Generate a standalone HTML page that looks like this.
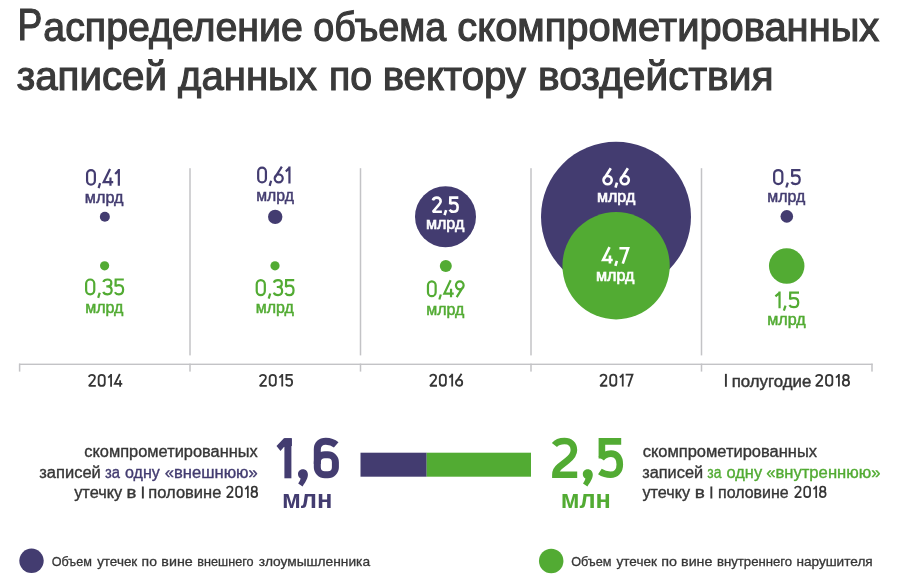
<!DOCTYPE html>
<html><head><meta charset="utf-8"><style>
html,body{margin:0;padding:0;background:#fff;width:900px;height:583px;overflow:hidden}
svg{display:block;will-change:transform}
text{font-family:"Liberation Sans",sans-serif}
</style></head><body>
<svg width="900" height="583" viewBox="0 0 900 583">
<rect x="19" y="363.6" width="853.6" height="1.4" fill="#c3c3c6"/>
<rect x="18.85" y="363.6" width="1.5" height="8" fill="#c3c3c6"/>
<rect x="189.25" y="363.6" width="1.5" height="8" fill="#c3c3c6"/>
<rect x="359.75" y="363.6" width="1.5" height="8" fill="#c3c3c6"/>
<rect x="530.25" y="363.6" width="1.5" height="8" fill="#c3c3c6"/>
<rect x="700.75" y="363.6" width="1.5" height="8" fill="#c3c3c6"/>
<rect x="871.25" y="363.6" width="1.5" height="8" fill="#c3c3c6"/>
<rect x="189.25" y="168.2" width="1.5" height="187.2" fill="#c3c3c6"/>
<rect x="359.75" y="168.2" width="1.5" height="187.2" fill="#c3c3c6"/>
<rect x="530.25" y="168.2" width="1.5" height="187.2" fill="#c3c3c6"/>
<rect x="700.75" y="168.2" width="1.5" height="187.2" fill="#c3c3c6"/>
<circle cx="104.85" cy="216.70" r="5.00" fill="#433c70"/>
<circle cx="104.60" cy="265.80" r="4.60" fill="#52ab33"/>
<circle cx="275.20" cy="216.85" r="7.20" fill="#433c70"/>
<circle cx="275.00" cy="265.80" r="4.60" fill="#52ab33"/>
<circle cx="445.50" cy="216.70" r="30.50" fill="#433c70"/>
<circle cx="445.80" cy="266.00" r="6.00" fill="#52ab33"/>
<circle cx="616.00" cy="216.70" r="75.00" fill="#433c70"/>
<circle cx="616.10" cy="265.75" r="53.65" fill="#52ab33"/>
<circle cx="786.80" cy="216.40" r="6.30" fill="#433c70"/>
<circle cx="786.70" cy="266.00" r="17.75" fill="#52ab33"/>
<circle cx="31.50" cy="560.80" r="12.20" fill="#433c70"/>
<circle cx="551.20" cy="561.00" r="12.25" fill="#52ab33"/>
<rect x="360.5" y="452.7" width="66.2" height="24" fill="#433c70"/>
<rect x="426.7" y="452.7" width="104.3" height="24" fill="#52ab33"/>
<text id="t0" x="17.47" y="40.02" font-size="43.60" fill="#3a3a3a" stroke="#3a3a3a" stroke-width="1.15" textLength="24.82" lengthAdjust="spacingAndGlyphs">Р</text>
<text id="t1_0" x="43.35" y="40.82" font-size="40.00" fill="#3a3a3a" stroke="#3a3a3a" stroke-width="1.15" textLength="259.47" lengthAdjust="spacingAndGlyphs">аспределение</text>
<text id="t1_1" x="313.30" y="40.82" font-size="40.00" fill="#3a3a3a" stroke="#3a3a3a" stroke-width="1.15" textLength="132.89" lengthAdjust="spacingAndGlyphs">объема</text>
<text id="t1_2" x="457.33" y="40.82" font-size="40.00" fill="#3a3a3a" stroke="#3a3a3a" stroke-width="1.15" textLength="421.90" lengthAdjust="spacingAndGlyphs">скомпрометированных</text>
<text id="t2_0" x="16.75" y="89.92" font-size="40.00" fill="#3a3a3a" stroke="#3a3a3a" stroke-width="1.15" textLength="150.24" lengthAdjust="spacingAndGlyphs">записей</text>
<text id="t2_1" x="178.07" y="89.92" font-size="40.00" fill="#3a3a3a" stroke="#3a3a3a" stroke-width="1.15" textLength="138.85" lengthAdjust="spacingAndGlyphs">данных</text>
<text id="t2_2" x="329.12" y="89.92" font-size="40.00" fill="#3a3a3a" stroke="#3a3a3a" stroke-width="1.15" textLength="43.09" lengthAdjust="spacingAndGlyphs">по</text>
<text id="t2_3" x="382.77" y="89.92" font-size="40.00" fill="#3a3a3a" stroke="#3a3a3a" stroke-width="1.15" textLength="143.15" lengthAdjust="spacingAndGlyphs">вектору</text>
<text id="t2_4" x="538.03" y="89.92" font-size="40.00" fill="#3a3a3a" stroke="#3a3a3a" stroke-width="1.15" textLength="235.41" lengthAdjust="spacingAndGlyphs">воздействия</text>
<text id="c1m1" x="84.84" y="202.95" font-size="16.00" fill="#433c70" stroke="#433c70" stroke-width="0.50" textLength="38.60" lengthAdjust="spacingAndGlyphs">млрд</text>
<text id="c1m2" x="85.25" y="312.95" font-size="16.00" fill="#52ab33" stroke="#52ab33" stroke-width="0.50" textLength="38.19" lengthAdjust="spacingAndGlyphs">млрд</text>
<text id="c2m1" x="256.27" y="200.55" font-size="16.00" fill="#433c70" stroke="#433c70" stroke-width="0.50" textLength="37.57" lengthAdjust="spacingAndGlyphs">млрд</text>
<text id="c2m2" x="255.75" y="313.15" font-size="16.00" fill="#52ab33" stroke="#52ab33" stroke-width="0.50" textLength="38.08" lengthAdjust="spacingAndGlyphs">млрд</text>
<text id="c3m1" x="425.92" y="229.48" font-size="16.00" fill="#ffffff" stroke="#ffffff" stroke-width="0.65" textLength="38.34" lengthAdjust="spacingAndGlyphs">млрд</text>
<text id="c3m2" x="426.25" y="314.55" font-size="16.00" fill="#52ab33" stroke="#52ab33" stroke-width="0.50" textLength="38.08" lengthAdjust="spacingAndGlyphs">млрд</text>
<text id="c4m1" x="597.02" y="202.18" font-size="16.00" fill="#ffffff" stroke="#ffffff" stroke-width="0.65" textLength="38.24" lengthAdjust="spacingAndGlyphs">млрд</text>
<text id="c4m2" x="596.02" y="280.78" font-size="16.00" fill="#ffffff" stroke="#ffffff" stroke-width="0.65" textLength="38.44" lengthAdjust="spacingAndGlyphs">млрд</text>
<text id="c5m1" x="767.26" y="201.95" font-size="16.00" fill="#433c70" stroke="#433c70" stroke-width="0.50" textLength="37.98" lengthAdjust="spacingAndGlyphs">млрд</text>
<text id="c5m2" x="767.25" y="325.05" font-size="16.00" fill="#52ab33" stroke="#52ab33" stroke-width="0.50" textLength="38.39" lengthAdjust="spacingAndGlyphs">млрд</text>
<rect id="y5_0" x="724.95" y="373.86" width="1.90" height="12.94" fill="#363636"/>
<text id="y5_1" x="731.67" y="386.57" font-size="16.80" fill="#363636" stroke="#363636" stroke-width="0.45" textLength="79.58" lengthAdjust="spacingAndGlyphs">полугодие</text>
<text id="lb1" x="84.26" y="457.02" font-size="15.60" fill="#363636" stroke="#363636" stroke-width="0.35" textLength="173.56" lengthAdjust="spacingAndGlyphs">скомпрометированных</text>
<text id="lb2_0" x="39.22" y="477.72" font-size="15.60" fill="#363636" stroke="#363636" stroke-width="0.35" textLength="61.58" lengthAdjust="spacingAndGlyphs">записей</text>
<text id="lb2_1" x="104.94" y="477.72" font-size="15.60" fill="#433c70" stroke="#433c70" stroke-width="0.35" textLength="14.99" lengthAdjust="spacingAndGlyphs">за</text>
<text id="lb2_2" x="124.97" y="477.72" font-size="15.60" fill="#433c70" stroke="#433c70" stroke-width="0.35" textLength="34.85" lengthAdjust="spacingAndGlyphs">одну</text>
<text id="lb2_3" x="164.66" y="477.72" font-size="15.60" fill="#433c70" stroke="#433c70" stroke-width="0.35" textLength="93.14" lengthAdjust="spacingAndGlyphs">«внешнюю»</text>
<text id="lb3_0" x="74.17" y="498.32" font-size="15.60" fill="#363636" stroke="#363636" stroke-width="0.35" textLength="48.05" lengthAdjust="spacingAndGlyphs">утечку</text>
<text id="lb3_1" x="126.51" y="498.32" font-size="15.60" fill="#363636" stroke="#363636" stroke-width="0.35" textLength="9.90" lengthAdjust="spacingAndGlyphs">в</text>
<rect id="lb3_2" x="141.90" y="486.49" width="1.90" height="12.01" fill="#363636"/>
<text id="lb3_3" x="148.34" y="498.32" font-size="15.60" fill="#363636" stroke="#363636" stroke-width="0.35" textLength="73.05" lengthAdjust="spacingAndGlyphs">половине</text>
<text id="mln1" x="281.90" y="507.80" font-size="26.00" font-weight="bold" fill="#433c70" textLength="50.56" lengthAdjust="spacingAndGlyphs">млн</text>
<text id="mln2" x="560.71" y="507.80" font-size="26.00" font-weight="bold" fill="#52ab33" textLength="50.24" lengthAdjust="spacingAndGlyphs">млн</text>
<text id="rb1" x="642.66" y="457.02" font-size="15.60" fill="#363636" stroke="#363636" stroke-width="0.35" textLength="174.36" lengthAdjust="spacingAndGlyphs">скомпрометированных</text>
<text id="rb2_0" x="642.22" y="477.72" font-size="15.60" fill="#363636" stroke="#363636" stroke-width="0.35" textLength="60.86" lengthAdjust="spacingAndGlyphs">записей</text>
<text id="rb2_1" x="707.36" y="477.72" font-size="15.60" fill="#52ab33" stroke="#52ab33" stroke-width="0.35" textLength="14.18" lengthAdjust="spacingAndGlyphs">за</text>
<text id="rb2_2" x="726.56" y="477.72" font-size="15.60" fill="#52ab33" stroke="#52ab33" stroke-width="0.35" textLength="35.56" lengthAdjust="spacingAndGlyphs">одну</text>
<text id="rb2_3" x="766.15" y="477.72" font-size="15.60" fill="#52ab33" stroke="#52ab33" stroke-width="0.35" textLength="114.34" lengthAdjust="spacingAndGlyphs">«внутреннюю»</text>
<text id="rb3_0" x="642.47" y="498.32" font-size="15.60" fill="#363636" stroke="#363636" stroke-width="0.35" textLength="47.65" lengthAdjust="spacingAndGlyphs">утечку</text>
<text id="rb3_1" x="694.78" y="498.32" font-size="15.60" fill="#363636" stroke="#363636" stroke-width="0.35" textLength="10.14" lengthAdjust="spacingAndGlyphs">в</text>
<rect id="rb3_2" x="710.40" y="486.49" width="1.90" height="12.01" fill="#363636"/>
<text id="rb3_3" x="718.08" y="498.32" font-size="15.60" fill="#363636" stroke="#363636" stroke-width="0.35" textLength="70.59" lengthAdjust="spacingAndGlyphs">половине</text>
<text id="lg1_0" x="51.76" y="565.85" font-size="13.40" fill="#363636" stroke="#363636" stroke-width="0.30" textLength="40.18" lengthAdjust="spacingAndGlyphs">Объем</text>
<text id="lg1_1" x="97.15" y="565.85" font-size="13.40" fill="#363636" stroke="#363636" stroke-width="0.30" textLength="40.09" lengthAdjust="spacingAndGlyphs">утечек</text>
<text id="lg1_2" x="141.58" y="565.85" font-size="13.40" fill="#363636" stroke="#363636" stroke-width="0.30" textLength="15.34" lengthAdjust="spacingAndGlyphs">по</text>
<text id="lg1_3" x="161.36" y="565.85" font-size="13.40" fill="#363636" stroke="#363636" stroke-width="0.30" textLength="31.37" lengthAdjust="spacingAndGlyphs">вине</text>
<text id="lg1_4" x="197.36" y="565.85" font-size="13.40" fill="#363636" stroke="#363636" stroke-width="0.30" textLength="56.20" lengthAdjust="spacingAndGlyphs">внешнего</text>
<text id="lg1_5" x="258.74" y="565.85" font-size="13.40" fill="#363636" stroke="#363636" stroke-width="0.30" textLength="111.33" lengthAdjust="spacingAndGlyphs">злоумышленника</text>
<text id="lg2_0" x="571.16" y="565.85" font-size="13.40" fill="#363636" stroke="#363636" stroke-width="0.30" textLength="40.39" lengthAdjust="spacingAndGlyphs">Объем</text>
<text id="lg2_1" x="616.55" y="565.85" font-size="13.40" fill="#363636" stroke="#363636" stroke-width="0.30" textLength="40.29" lengthAdjust="spacingAndGlyphs">утечек</text>
<text id="lg2_2" x="661.15" y="565.85" font-size="13.40" fill="#363636" stroke="#363636" stroke-width="0.30" textLength="15.78" lengthAdjust="spacingAndGlyphs">по</text>
<text id="lg2_3" x="681.06" y="565.85" font-size="13.40" fill="#363636" stroke="#363636" stroke-width="0.30" textLength="31.37" lengthAdjust="spacingAndGlyphs">вине</text>
<text id="lg2_4" x="716.93" y="565.85" font-size="13.40" fill="#363636" stroke="#363636" stroke-width="0.30" textLength="75.26" lengthAdjust="spacingAndGlyphs">внутреннего</text>
<text id="lg2_5" x="796.40" y="565.85" font-size="13.40" fill="#363636" stroke="#363636" stroke-width="0.30" textLength="76.33" lengthAdjust="spacingAndGlyphs">нарушителя</text>
<g fill="none" stroke="#433c70" stroke-width="7" stroke-linejoin="miter">
<path d="M287.9,438.2 L287.9,478.3"/>
<path d="M317.3,464 L317.3,449.5 C317.3,444.2 320.6,441.2 325.8,441.2 C330.2,441.2 333.2,442.3 336.2,444.9"/>
<rect x="317.3" y="454.7" width="18.1" height="20.1" rx="7.5"/>
</g>
<g fill="#433c70">
<polygon points="283.9,438.2 291.9,438.2 291.9,446 283.9,446.9 280.5,450.9 276.5,446"/>
<path d="M298,474 C298,471.2 300.4,469.3 303,469.3 C305.8,469.3 307.9,471.5 307.9,474.6 C307.9,477.8 306.4,481 302.6,486.4 L298.2,483.6 C299.6,481.5 300.4,479.8 300.6,478.6 C299,477.8 298,476.3 298,474 Z"/>
</g>
<g fill="none" stroke="#52ab33" stroke-width="6.6" stroke-linejoin="miter">
<path d="M554.4,445 C557,441.8 560.5,441 564.5,441 C570,441 573.9,444.5 573.9,450 C573.9,454.2 571.6,457.2 567.2,460.6 L559.6,466.6 C556.6,469 555.4,471 555.4,474.8 L577.2,474.8"/>
<path d="M621.2,441.4 L601.9,441.4 L601.9,458.4"/>
<path d="M601.2,458.6 C603.6,455.2 607,453.6 611,453.6 C616.5,453.6 619.8,457.5 619.8,464.4 C619.8,471 616,474.8 610.5,474.8 C606.2,474.8 602.6,473.4 599.9,471.6"/>
</g>
<g fill="#52ab33">
<path d="M582.8,474 C582.8,471.2 585.2,469.3 587.8,469.3 C590.6,469.3 592.8,471.5 592.8,474.6 C592.8,477.8 591.3,481 587.4,486.4 L583,483.6 C584.4,481.5 585.2,479.8 585.4,478.6 C583.8,477.8 582.8,476.3 582.8,474 Z"/>
</g>
<g fill="none" stroke="#433c70" stroke-width="2.20" vector-effect="non-scaling-stroke" stroke-linejoin="miter" stroke-miterlimit="2"><path vector-effect="non-scaling-stroke" transform="matrix(0.1659 0 0 0.1670 86.00 169.10)" d="M6.5,30 A23.5,23.5 0 0 1 53.5,30 L53.5,70 A23.5,23.5 0 0 1 6.5,70 Z"/><path vector-effect="non-scaling-stroke" transform="matrix(0.1659 0 0 0.1670 97.78 169.10)" d="M14,84 L5,114"/><path vector-effect="non-scaling-stroke" transform="matrix(0.1659 0 0 0.1670 102.59 169.10)" d="M45,0 L6.5,78.5 L64,78.5 M47.5,50 L47.5,100"/><path vector-effect="non-scaling-stroke" transform="matrix(0.1659 0 0 0.1670 114.36 169.10)" d="M5,29 L25,9 M27,0 L27,100"/></g>
<g fill="none" stroke="#52ab33" stroke-width="2.20" vector-effect="non-scaling-stroke" stroke-linejoin="miter" stroke-miterlimit="2"><path vector-effect="non-scaling-stroke" transform="matrix(0.1733 0 0 0.1710 85.00 278.40)" d="M6.5,30 A23.5,23.5 0 0 1 53.5,30 L53.5,70 A23.5,23.5 0 0 1 6.5,70 Z"/><path vector-effect="non-scaling-stroke" transform="matrix(0.1733 0 0 0.1710 97.31 278.40)" d="M14,84 L5,114"/><path vector-effect="non-scaling-stroke" transform="matrix(0.1733 0 0 0.1710 102.33 278.40)" d="M6,21 C9,11.5 18,6.5 30,6.5 C43,6.5 52,14 52,27 C52,39 43,46.5 31,46.5 L23,46.5 M31,46.5 C45,46.5 54,55 54,70 C54,85 44,93.5 30,93.5 C18,93.5 9,88 5.5,79"/><path vector-effect="non-scaling-stroke" transform="matrix(0.1733 0 0 0.1710 113.95 278.40)" d="M57,6.5 L10,6.5 L9,48 M8,46 C13,41 20,39 29,39 C44,39 53,49 53,65 C53,83 43,93.5 29,93.5 C18,93.5 10,89 5.5,81"/></g>
<g fill="none" stroke="#433c70" stroke-width="2.20" vector-effect="non-scaling-stroke" stroke-linejoin="miter" stroke-miterlimit="2"><path vector-effect="non-scaling-stroke" transform="matrix(0.1650 0 0 0.1690 257.10 166.60)" d="M6.5,30 A23.5,23.5 0 0 1 53.5,30 L53.5,70 A23.5,23.5 0 0 1 6.5,70 Z"/><path vector-effect="non-scaling-stroke" transform="matrix(0.1650 0 0 0.1690 268.82 166.60)" d="M14,84 L5,114"/><path vector-effect="non-scaling-stroke" transform="matrix(0.1650 0 0 0.1690 273.60 166.60)" d="M50,0 L10,62 M31,93.5 A24.5,24 0 1 1 31,45.5 A24.5,24 0 1 1 31,93.5 Z"/><path vector-effect="non-scaling-stroke" transform="matrix(0.1650 0 0 0.1690 284.99 166.60)" d="M5,29 L25,9 M27,0 L27,100"/></g>
<g fill="none" stroke="#52ab33" stroke-width="2.20" vector-effect="non-scaling-stroke" stroke-linejoin="miter" stroke-miterlimit="2"><path vector-effect="non-scaling-stroke" transform="matrix(0.1724 0 0 0.1720 255.60 279.00)" d="M6.5,30 A23.5,23.5 0 0 1 53.5,30 L53.5,70 A23.5,23.5 0 0 1 6.5,70 Z"/><path vector-effect="non-scaling-stroke" transform="matrix(0.1724 0 0 0.1720 267.84 279.00)" d="M14,84 L5,114"/><path vector-effect="non-scaling-stroke" transform="matrix(0.1724 0 0 0.1720 272.84 279.00)" d="M6,21 C9,11.5 18,6.5 30,6.5 C43,6.5 52,14 52,27 C52,39 43,46.5 31,46.5 L23,46.5 M31,46.5 C45,46.5 54,55 54,70 C54,85 44,93.5 30,93.5 C18,93.5 9,88 5.5,79"/><path vector-effect="non-scaling-stroke" transform="matrix(0.1724 0 0 0.1720 284.40 279.00)" d="M57,6.5 L10,6.5 L9,48 M8,46 C13,41 20,39 29,39 C44,39 53,49 53,65 C53,83 43,93.5 29,93.5 C18,93.5 10,89 5.5,81"/></g>
<g fill="none" stroke="#ffffff" stroke-width="2.60" vector-effect="non-scaling-stroke" stroke-linejoin="miter" stroke-miterlimit="2"><path vector-effect="non-scaling-stroke" transform="matrix(0.1696 0 0 0.1620 431.70 196.60)" d="M7,23 C9.5,12.5 18,6.5 30,6.5 C44,6.5 53,15 53,28 C53,37 49,43 42,51 L7,93.5 L60,93.5"/><path vector-effect="non-scaling-stroke" transform="matrix(0.1696 0 0 0.1620 443.74 196.60)" d="M14,84 L5,114"/><path vector-effect="non-scaling-stroke" transform="matrix(0.1696 0 0 0.1620 448.66 196.60)" d="M57,6.5 L10,6.5 L9,48 M8,46 C13,41 20,39 29,39 C44,39 53,49 53,65 C53,83 43,93.5 29,93.5 C18,93.5 10,89 5.5,81"/></g>
<g fill="none" stroke="#52ab33" stroke-width="2.20" vector-effect="non-scaling-stroke" stroke-linejoin="miter" stroke-miterlimit="2"><path vector-effect="non-scaling-stroke" transform="matrix(0.1636 0 0 0.1690 426.90 280.30)" d="M6.5,30 A23.5,23.5 0 0 1 53.5,30 L53.5,70 A23.5,23.5 0 0 1 6.5,70 Z"/><path vector-effect="non-scaling-stroke" transform="matrix(0.1636 0 0 0.1690 438.52 280.30)" d="M14,84 L5,114"/><path vector-effect="non-scaling-stroke" transform="matrix(0.1636 0 0 0.1690 443.26 280.30)" d="M45,0 L6.5,78.5 L64,78.5 M47.5,50 L47.5,100"/><path vector-effect="non-scaling-stroke" transform="matrix(0.1636 0 0 0.1690 454.88 280.30)" d="M11,100 L48,42 M30,6.5 A23.5,23.5 0 1 1 30,53.5 A23.5,23.5 0 1 1 30,6.5 Z"/></g>
<g fill="none" stroke="#ffffff" stroke-width="2.60" vector-effect="non-scaling-stroke" stroke-linejoin="miter" stroke-miterlimit="2"><path vector-effect="non-scaling-stroke" transform="matrix(0.1677 0 0 0.1710 602.40 168.20)" d="M50,0 L10,62 M31,93.5 A24.5,24 0 1 1 31,45.5 A24.5,24 0 1 1 31,93.5 Z"/><path vector-effect="non-scaling-stroke" transform="matrix(0.1677 0 0 0.1710 614.64 168.20)" d="M14,84 L5,114"/><path vector-effect="non-scaling-stroke" transform="matrix(0.1677 0 0 0.1710 619.50 168.20)" d="M50,0 L10,62 M31,93.5 A24.5,24 0 1 1 31,45.5 A24.5,24 0 1 1 31,93.5 Z"/></g>
<g fill="none" stroke="#ffffff" stroke-width="2.60" vector-effect="non-scaling-stroke" stroke-linejoin="miter" stroke-miterlimit="2"><path vector-effect="non-scaling-stroke" transform="matrix(0.1673 0 0 0.1640 602.00 247.20)" d="M45,0 L6.5,78.5 L64,78.5 M47.5,50 L47.5,100"/><path vector-effect="non-scaling-stroke" transform="matrix(0.1673 0 0 0.1640 614.55 247.20)" d="M14,84 L5,114"/><path vector-effect="non-scaling-stroke" transform="matrix(0.1673 0 0 0.1640 619.40 247.20)" d="M0,6.5 L52,6.5 L20,100"/></g>
<g fill="none" stroke="#433c70" stroke-width="2.20" vector-effect="non-scaling-stroke" stroke-linejoin="miter" stroke-miterlimit="2"><path vector-effect="non-scaling-stroke" transform="matrix(0.1747 0 0 0.1620 773.00 169.00)" d="M6.5,30 A23.5,23.5 0 0 1 53.5,30 L53.5,70 A23.5,23.5 0 0 1 6.5,70 Z"/><path vector-effect="non-scaling-stroke" transform="matrix(0.1747 0 0 0.1620 785.40 169.00)" d="M14,84 L5,114"/><path vector-effect="non-scaling-stroke" transform="matrix(0.1747 0 0 0.1620 790.47 169.00)" d="M57,6.5 L10,6.5 L9,48 M8,46 C13,41 20,39 29,39 C44,39 53,49 53,65 C53,83 43,93.5 29,93.5 C18,93.5 10,89 5.5,81"/></g>
<g fill="none" stroke="#52ab33" stroke-width="2.20" vector-effect="non-scaling-stroke" stroke-linejoin="miter" stroke-miterlimit="2"><path vector-effect="non-scaling-stroke" transform="matrix(0.1871 0 0 0.1670 774.50 291.60)" d="M5,29 L25,9 M27,0 L27,100"/><path vector-effect="non-scaling-stroke" transform="matrix(0.1871 0 0 0.1670 782.92 291.60)" d="M14,84 L5,114"/><path vector-effect="non-scaling-stroke" transform="matrix(0.1871 0 0 0.1670 788.35 291.60)" d="M57,6.5 L10,6.5 L9,48 M8,46 C13,41 20,39 29,39 C44,39 53,49 53,65 C53,83 43,93.5 29,93.5 C18,93.5 10,89 5.5,81"/></g>
<g fill="none" stroke="#363636" stroke-width="1.80" vector-effect="non-scaling-stroke" stroke-linejoin="miter" stroke-miterlimit="2"><path vector-effect="non-scaling-stroke" transform="matrix(0.1304 0 0 0.1270 88.00 374.00)" d="M7,23 C9.5,12.5 18,6.5 30,6.5 C44,6.5 53,15 53,28 C53,37 49,43 42,51 L7,93.5 L60,93.5"/><path vector-effect="non-scaling-stroke" transform="matrix(0.1304 0 0 0.1270 97.78 374.00)" d="M6.5,30 A23.5,23.5 0 0 1 53.5,30 L53.5,70 A23.5,23.5 0 0 1 6.5,70 Z"/><path vector-effect="non-scaling-stroke" transform="matrix(0.1304 0 0 0.1270 107.56 374.00)" d="M5,29 L25,9 M27,0 L27,100"/><path vector-effect="non-scaling-stroke" transform="matrix(0.1304 0 0 0.1270 113.95 374.00)" d="M45,0 L6.5,78.5 L64,78.5 M47.5,50 L47.5,100"/></g>
<g fill="none" stroke="#363636" stroke-width="1.80" vector-effect="non-scaling-stroke" stroke-linejoin="miter" stroke-miterlimit="2"><path vector-effect="non-scaling-stroke" transform="matrix(0.1319 0 0 0.1260 258.90 374.00)" d="M7,23 C9.5,12.5 18,6.5 30,6.5 C44,6.5 53,15 53,28 C53,37 49,43 42,51 L7,93.5 L60,93.5"/><path vector-effect="non-scaling-stroke" transform="matrix(0.1319 0 0 0.1260 268.79 374.00)" d="M6.5,30 A23.5,23.5 0 0 1 53.5,30 L53.5,70 A23.5,23.5 0 0 1 6.5,70 Z"/><path vector-effect="non-scaling-stroke" transform="matrix(0.1319 0 0 0.1260 278.69 374.00)" d="M5,29 L25,9 M27,0 L27,100"/><path vector-effect="non-scaling-stroke" transform="matrix(0.1319 0 0 0.1260 285.15 374.00)" d="M57,6.5 L10,6.5 L9,48 M8,46 C13,41 20,39 29,39 C44,39 53,49 53,65 C53,83 43,93.5 29,93.5 C18,93.5 10,89 5.5,81"/></g>
<g fill="none" stroke="#363636" stroke-width="1.80" vector-effect="non-scaling-stroke" stroke-linejoin="miter" stroke-miterlimit="2"><path vector-effect="non-scaling-stroke" transform="matrix(0.1299 0 0 0.1280 429.20 373.80)" d="M7,23 C9.5,12.5 18,6.5 30,6.5 C44,6.5 53,15 53,28 C53,37 49,43 42,51 L7,93.5 L60,93.5"/><path vector-effect="non-scaling-stroke" transform="matrix(0.1299 0 0 0.1280 438.94 373.80)" d="M6.5,30 A23.5,23.5 0 0 1 53.5,30 L53.5,70 A23.5,23.5 0 0 1 6.5,70 Z"/><path vector-effect="non-scaling-stroke" transform="matrix(0.1299 0 0 0.1280 448.68 373.80)" d="M5,29 L25,9 M27,0 L27,100"/><path vector-effect="non-scaling-stroke" transform="matrix(0.1299 0 0 0.1280 455.05 373.80)" d="M50,0 L10,62 M31,93.5 A24.5,24 0 1 1 31,45.5 A24.5,24 0 1 1 31,93.5 Z"/></g>
<g fill="none" stroke="#363636" stroke-width="1.80" vector-effect="non-scaling-stroke" stroke-linejoin="miter" stroke-miterlimit="2"><path vector-effect="non-scaling-stroke" transform="matrix(0.1319 0 0 0.1280 599.40 373.80)" d="M7,23 C9.5,12.5 18,6.5 30,6.5 C44,6.5 53,15 53,28 C53,37 49,43 42,51 L7,93.5 L60,93.5"/><path vector-effect="non-scaling-stroke" transform="matrix(0.1319 0 0 0.1280 609.29 373.80)" d="M6.5,30 A23.5,23.5 0 0 1 53.5,30 L53.5,70 A23.5,23.5 0 0 1 6.5,70 Z"/><path vector-effect="non-scaling-stroke" transform="matrix(0.1319 0 0 0.1280 619.19 373.80)" d="M5,29 L25,9 M27,0 L27,100"/><path vector-effect="non-scaling-stroke" transform="matrix(0.1319 0 0 0.1280 625.65 373.80)" d="M0,6.5 L52,6.5 L20,100"/></g>
<g fill="none" stroke="#363636" stroke-width="1.80" vector-effect="non-scaling-stroke" stroke-linejoin="miter" stroke-miterlimit="2"><path vector-effect="non-scaling-stroke" transform="matrix(0.1351 0 0 0.1260 815.00 374.00)" d="M7,23 C9.5,12.5 18,6.5 30,6.5 C44,6.5 53,15 53,28 C53,37 49,43 42,51 L7,93.5 L60,93.5"/><path vector-effect="non-scaling-stroke" transform="matrix(0.1351 0 0 0.1260 825.14 374.00)" d="M6.5,30 A23.5,23.5 0 0 1 53.5,30 L53.5,70 A23.5,23.5 0 0 1 6.5,70 Z"/><path vector-effect="non-scaling-stroke" transform="matrix(0.1351 0 0 0.1260 835.27 374.00)" d="M5,29 L25,9 M27,0 L27,100"/><path vector-effect="non-scaling-stroke" transform="matrix(0.1351 0 0 0.1260 841.89 374.00)" d="M30,46.5 C18,46.5 9.5,39 9.5,26.5 C9.5,14 18,6.5 30,6.5 C42,6.5 50.5,14 50.5,26.5 C50.5,39 42,46.5 30,46.5 C16,46.5 6.5,55.5 6.5,70 C6.5,84.5 16,93.5 30,93.5 C44,93.5 53.5,84.5 53.5,70 C53.5,55.5 44,46.5 30,46.5 Z"/></g>
<g fill="none" stroke="#363636" stroke-width="1.70" vector-effect="non-scaling-stroke" stroke-linejoin="miter" stroke-miterlimit="2"><path vector-effect="non-scaling-stroke" transform="matrix(0.1236 0 0 0.1230 226.00 485.70)" d="M7,23 C9.5,12.5 18,6.5 30,6.5 C44,6.5 53,15 53,28 C53,37 49,43 42,51 L7,93.5 L60,93.5"/><path vector-effect="non-scaling-stroke" transform="matrix(0.1236 0 0 0.1230 235.27 485.70)" d="M6.5,30 A23.5,23.5 0 0 1 53.5,30 L53.5,70 A23.5,23.5 0 0 1 6.5,70 Z"/><path vector-effect="non-scaling-stroke" transform="matrix(0.1236 0 0 0.1230 244.53 485.70)" d="M5,29 L25,9 M27,0 L27,100"/><path vector-effect="non-scaling-stroke" transform="matrix(0.1236 0 0 0.1230 250.59 485.70)" d="M30,46.5 C18,46.5 9.5,39 9.5,26.5 C9.5,14 18,6.5 30,6.5 C42,6.5 50.5,14 50.5,26.5 C50.5,39 42,46.5 30,46.5 C16,46.5 6.5,55.5 6.5,70 C6.5,84.5 16,93.5 30,93.5 C44,93.5 53.5,84.5 53.5,70 C53.5,55.5 44,46.5 30,46.5 Z"/></g>
<g fill="none" stroke="#363636" stroke-width="1.70" vector-effect="non-scaling-stroke" stroke-linejoin="miter" stroke-miterlimit="2"><path vector-effect="non-scaling-stroke" transform="matrix(0.1255 0 0 0.1230 794.00 485.70)" d="M7,23 C9.5,12.5 18,6.5 30,6.5 C44,6.5 53,15 53,28 C53,37 49,43 42,51 L7,93.5 L60,93.5"/><path vector-effect="non-scaling-stroke" transform="matrix(0.1255 0 0 0.1230 803.41 485.70)" d="M6.5,30 A23.5,23.5 0 0 1 53.5,30 L53.5,70 A23.5,23.5 0 0 1 6.5,70 Z"/><path vector-effect="non-scaling-stroke" transform="matrix(0.1255 0 0 0.1230 812.82 485.70)" d="M5,29 L25,9 M27,0 L27,100"/><path vector-effect="non-scaling-stroke" transform="matrix(0.1255 0 0 0.1230 818.97 485.70)" d="M30,46.5 C18,46.5 9.5,39 9.5,26.5 C9.5,14 18,6.5 30,6.5 C42,6.5 50.5,14 50.5,26.5 C50.5,39 42,46.5 30,46.5 C16,46.5 6.5,55.5 6.5,70 C6.5,84.5 16,93.5 30,93.5 C44,93.5 53.5,84.5 53.5,70 C53.5,55.5 44,46.5 30,46.5 Z"/></g>
</svg>
</body></html>
